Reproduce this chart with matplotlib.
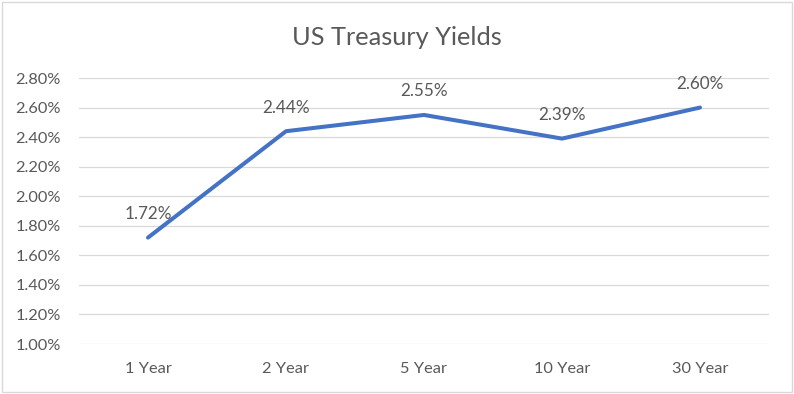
import matplotlib
matplotlib.use("Agg")
from matplotlib import pyplot as plt
from matplotlib.patches import Rectangle

plt.rcParams['font.family'] = ['Lato', 'DejaVu Sans']

terms = ["1 Year", "2 Year", "5 Year", "10 Year", "30 Year"]
yields = [1.72, 2.44, 2.55, 2.39, 2.60]
yticks = [1.00, 1.20, 1.40, 1.60, 1.80, 2.00, 2.20, 2.40, 2.60, 2.80]

text_col = "#595959"

fig = plt.figure(figsize=(7.94, 3.94), dpi=100)
ax = fig.add_axes([79 / 794, 50 / 394, 690 / 794, 266 / 394])

x = range(len(terms))
ax.plot(x, yields, color="#4472C4", linewidth=2.9, solid_capstyle="round", zorder=3)

for i, v in zip(x, yields):
    ax.annotate(f"{v:.2f}%", (i, v), xytext=(0, 17), textcoords="offset points",
                ha="center", va="center", fontsize=12.3, color=text_col)

ax.set_xlim(-0.5, len(terms) - 0.5)
ax.set_ylim(1.0, 2.8)
ax.set_xticks(list(x))
ax.set_xticklabels(terms)
ax.set_yticks(yticks)
ax.set_yticklabels([f"{t:.2f}%" for t in yticks])
ax.tick_params(axis="both", length=0, labelsize=11.8, labelcolor=text_col)
ax.tick_params(axis="y", pad=13)
ax.tick_params(axis="x", pad=13)
ax.grid(axis="y", color="#D9D9D9", linewidth=0.9)
ax.set_axisbelow(True)
for s in ax.spines.values():
    s.set_visible(False)

fig.text(0.5, 1 - 45 / 394, "US Treasury Yields", ha="center", va="baseline",
         fontsize=18.3, color=text_col)

fig.patches.append(Rectangle((1.5 / 794, 2.5 / 394), 790 / 794, 390 / 394,
                             transform=fig.transFigure, fill=False,
                             edgecolor="#D9D9D9", linewidth=1))

plt.savefig("out.png", dpi=100)
